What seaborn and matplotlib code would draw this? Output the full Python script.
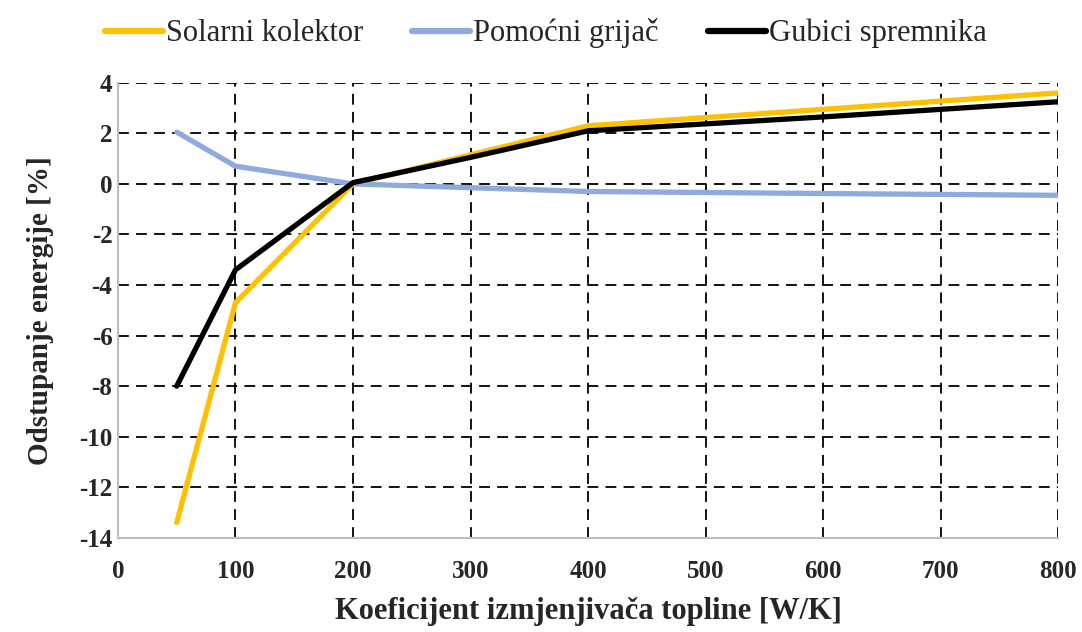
import numpy as np
import pandas as pd
import matplotlib.pyplot as plt
import seaborn as sns

# data
x_vals = [50, 100, 200, 300, 400, 600, 800]
solarni = [-13.4, -4.7, 0.0, 1.15, 2.3, 2.95, 3.6]
pomocni = [2.05, 0.7, 0.0, -0.15, -0.3, -0.38, -0.45]
gubici = [-8.0, -3.4, 0.05, 1.05, 2.1, 2.65, 3.25]
series_names = ['Solarni kolektor', 'Pomoćni grijač', 'Gubici spremnika']
colors = ['#FFC000', '#8FAADC', '#000000']

df = pd.DataFrame({
    'x': x_vals * 3,
    'y': solarni + pomocni + gubici,
    'serija': np.repeat(series_names, len(x_vals)),
})

sns.set_style('white')
plt.rcParams['font.family'] = ['Liberation Serif', 'DejaVu Serif']
plt.rcParams['axes.unicode_minus'] = False

fig = plt.figure(figsize=(10.82, 6.32), dpi=100)
ax = fig.add_axes([0.109, 0.149, 0.869, 0.72])

sns.lineplot(data=df, x='x', y='y', hue='serija', hue_order=series_names,
             palette=colors, linewidth=3.8, ax=ax, legend=True)

ax.set_xlim(0, 800)
ax.set_ylim(-14, 4)
ax.set_xticks(np.arange(0, 801, 100))
ax.set_yticks(np.arange(-14, 5, 2))
ax.grid(True, color='black', linestyle=(0, (6, 4)), linewidth=1.3)
ax.set_axisbelow(True)
for s in ['top', 'right']:
    ax.spines[s].set_visible(False)
for s in ['left', 'bottom']:
    ax.spines[s].set_color('#BFBFBF')
    ax.spines[s].set_linewidth(1.5)
ax.tick_params(axis='x', length=0, labelsize=18, pad=16)
ax.tick_params(axis='y', length=0, labelsize=18, pad=4)
for lab in ax.get_xticklabels() + ax.get_yticklabels():
    lab.set_fontweight('bold')

ax.set_xlabel('Koeficijent izmjenjivača topline [W/K]', fontsize=22,
              fontweight='bold', labelpad=10)
ax.set_ylabel('Odstupanje energije [%]', fontsize=21, fontweight='bold',
              labelpad=18)

leg = ax.legend(loc='lower center', bbox_to_anchor=(0.455, 1.015), ncol=3,
                frameon=False, fontsize=22, handlelength=1.9,
                handletextpad=0.1, columnspacing=1.6)
for h in leg.get_lines():
    h.set_linewidth(4.5)

fig.savefig('out.png', dpi=100)
